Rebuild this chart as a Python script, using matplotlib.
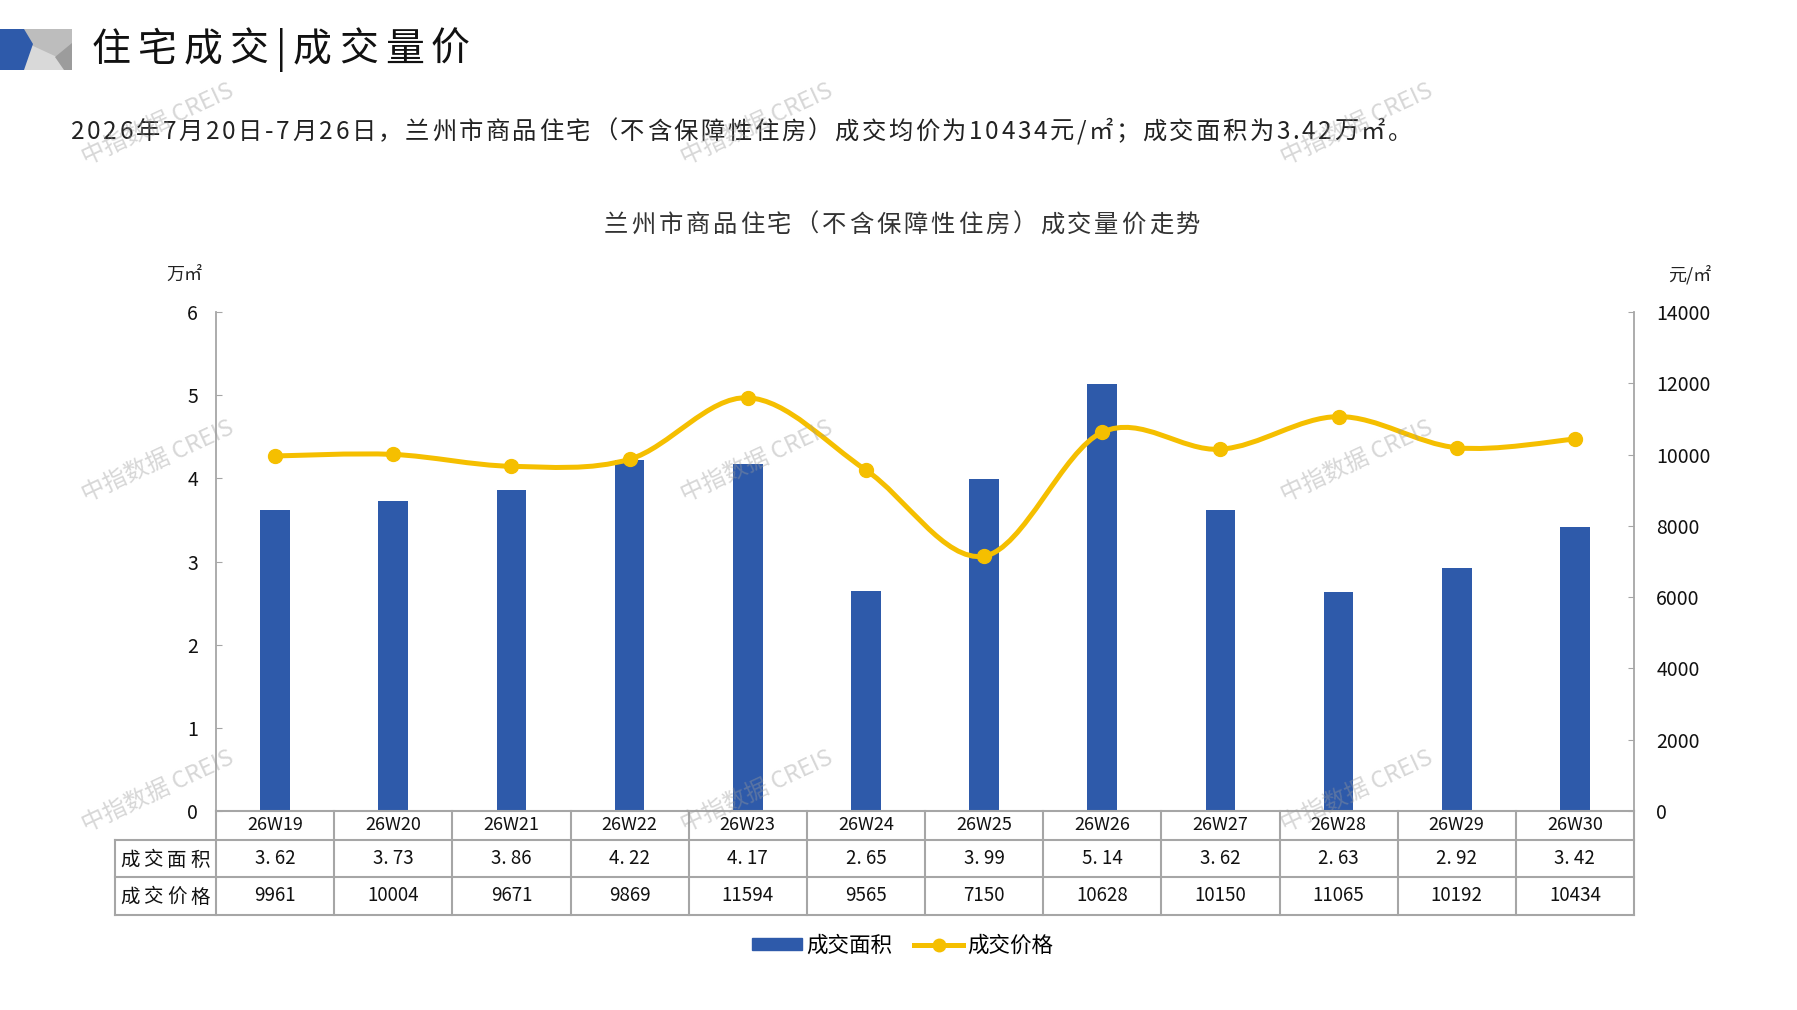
import matplotlib
matplotlib.use("Agg")
import matplotlib.pyplot as plt
import numpy as np
from matplotlib.path import Path
from matplotlib.patches import PathPatch, Polygon, Patch
from matplotlib.lines import Line2D

plt.rcParams["font.family"] = ["Noto Sans CJK SC", "DejaVu Sans"]

# data
weeks = ["26W19", "26W20", "26W21", "26W22", "26W23", "26W24",
         "26W25", "26W26", "26W27", "26W28", "26W29", "26W30"]
area = [3.62, 3.73, 3.86, 4.22, 4.17, 2.65, 3.99, 5.14, 3.62, 2.63, 2.92, 3.42]
price = [9961, 10004, 9671, 9869, 11594, 9565, 7150, 10628, 10150, 11065, 10192, 10434]
area_labels = ["3. 62", "3. 73", "3. 86", "4. 22", "4. 17", "2. 65",
               "3. 99", "5. 14", "3. 62", "2. 63", "2. 92", "3. 42"]
row_names = ["成交面积", "成交价格"]

BLUE = "#2E5AAA"
GOLD = "#F5BF00"
GRID = "#A6A6A6"
W, H = 1797, 1010


def fx(px):
    return px / W


def fy(py):
    return 1 - py / H


fig = plt.figure(figsize=(W / 100, H / 100), dpi=100)
renderer = fig.canvas.get_renderer()


def _width(s, size):
    t = fig.text(0, 0, s, fontsize=size)
    w = t.get_window_extent(renderer).width
    t.remove()
    return w


def tracked(x_px, y_px, s, size, track, ha="left", **kw):
    """Draw text char by char with extra letter spacing (px)."""
    base = _width("中中", size)
    adv = [_width("中" + ch + "中", size) - base for ch in s]
    total = sum(adv) + track * (len(s) - 1)
    pos = x_px if ha == "left" else x_px - total / 2
    for ch, a in zip(s, adv):
        fig.text(fx(pos), fy(y_px), ch, fontsize=size, va="center", ha="left", **kw)
        pos += a + track


# header logo
fig.patches.append(Polygon([(fx(0), fy(29)), (fx(72), fy(29)), (fx(72), fy(70)), (fx(0), fy(70))],
                           closed=True, transform=fig.transFigure, color="#D9D9D9", lw=0))
fig.patches.append(Polygon([(fx(22), fy(29)), (fx(72), fy(29)), (fx(72), fy(45)), (fx(57), fy(57)), (fx(31), fy(45))],
                           closed=True, transform=fig.transFigure, color="#BDBDBD", lw=0))
fig.patches.append(Polygon([(fx(55), fy(57)), (fx(72), fy(43)), (fx(72), fy(70)), (fx(64), fy(70))],
                           closed=True, transform=fig.transFigure, color="#9C9C9C", lw=0))
fig.patches.append(Polygon([(fx(0), fy(29)), (fx(24), fy(29)), (fx(33), fy(44)), (fx(24), fy(70)), (fx(0), fy(70))],
                           closed=True, transform=fig.transFigure, color=BLUE, lw=0))

tracked(92, 50, "住宅成交|成交量价", 28, 7, color="#111111")
tracked(71, 132,
        "2026年7月20日-7月26日，兰州市商品住宅（不含保障性住房）成交均价为10434元/㎡；成交面积为3.42万㎡。",
        17.5, 2.6, color="#222222")
tracked(902, 225, "兰州市商品住宅（不含保障性住房）成交量价走势", 17.5, 3, ha="center", color="#333333")
fig.text(fx(184), fy(275), "万㎡", fontsize=13, va="center", ha="center", color="#222222")
fig.text(fx(1690), fy(275), "元/㎡", fontsize=13, va="center", ha="center", color="#222222")

ax = fig.add_axes([fx(216), fy(811), fx(1634) - fx(216), fy(312) - fy(811)])
ax2 = ax.twinx()

x = np.arange(len(weeks))
ax.bar(x, area, width=0.25, color=BLUE, zorder=2)
ax.set_xlim(-0.5, len(weeks) - 0.5)
ax.set_ylim(0, 6)
ax.set_yticks(range(0, 7))
ax2.set_ylim(0, 14000)
ax2.set_yticks(range(0, 14001, 2000))

# smoothed price line (Excel style bezier through the points)
pts = np.column_stack([x, price]).astype(float)
verts = [tuple(pts[0])]
codes = [Path.MOVETO]
n = len(pts)
for i in range(n - 1):
    p0 = pts[max(i - 1, 0)]
    p1 = pts[i]
    p2 = pts[i + 1]
    p3 = pts[min(i + 2, n - 1)]
    verts += [tuple(p1 + (p2 - p0) / 6), tuple(p2 - (p3 - p1) / 6), tuple(p2)]
    codes += [Path.CURVE4] * 3
ax2.add_patch(PathPatch(Path(verts, codes), fill=False, edgecolor=GOLD, lw=3.6,
                        capstyle="round", joinstyle="round", zorder=3))
ax2.plot(x, price, "o", color=GOLD, markersize=10, zorder=4)

for a in (ax, ax2):
    a.set_xticks([])
    for s in ("top", "bottom"):
        a.spines[s].set_visible(False)
    a.tick_params(axis="y", direction="in", length=4, color=GRID, labelsize=14,
                  labelcolor="#111111")
ax.spines["left"].set_color(GRID)
ax.spines["left"].set_linewidth(1.3)
ax.spines["right"].set_visible(False)
ax2.spines["left"].set_visible(False)
ax2.spines["right"].set_color(GRID)
ax2.spines["right"].set_linewidth(1.3)
ax.tick_params(axis="y", pad=13)
ax2.tick_params(axis="y", pad=16)

# data table under the chart
tr = ax.get_xaxis_transform()
rows_y = [0, -0.058, -0.132, -0.208]
left_edge = -1.355
right_edge = len(weeks) - 0.5
kw = dict(transform=tr, clip_on=False, color=GRID, lw=1.5, zorder=5)
ax.plot([-0.5, right_edge], [0, 0], **kw)
for ry in rows_y[1:]:
    ax.plot([left_edge, right_edge], [ry, ry], **kw)
for i in range(len(weeks) + 1):
    ax.plot([i - 0.5, i - 0.5], [0, rows_y[-1]], **kw)
ax.plot([left_edge, left_edge], [rows_y[1], rows_y[-1]], **kw)

centers = [(rows_y[k] + rows_y[k + 1]) / 2 for k in range(3)]
for i, wk in enumerate(weeks):
    ax.text(i, centers[0], wk, transform=tr, ha="center", va="center", fontsize=13, color="#111111")
    ax.text(i, centers[1], area_labels[i], transform=tr, ha="center", va="center", fontsize=13.5, color="#111111")
    ax.text(i, centers[2], str(price[i]), transform=tr, ha="center", va="center", fontsize=13.5, color="#111111")
for k, name in enumerate(row_names):
    tracked(165, [860, 897][k], name, 14, 4, ha="center", color="#111111")

handles = [Patch(color=BLUE), Line2D([], [], color=GOLD, lw=3.6, marker="o", markersize=9)]
fig.legend(handles, row_names, loc="center", bbox_to_anchor=(fx(903), fy(946)), ncol=2,
           frameon=False, fontsize=15.5, handlelength=2.3, handleheight=0.5, handletextpad=0.2,
           columnspacing=1.0)

# watermarks
for wx in (158, 757, 1357):
    for wy in (124, 461, 791):
        fig.text(fx(wx), fy(wy), "中指数据 CREIS", fontsize=17, rotation=25, color="#9A9A9A",
                 alpha=0.4, ha="center", va="center", zorder=10)

fig.savefig("out.png", dpi=100)
